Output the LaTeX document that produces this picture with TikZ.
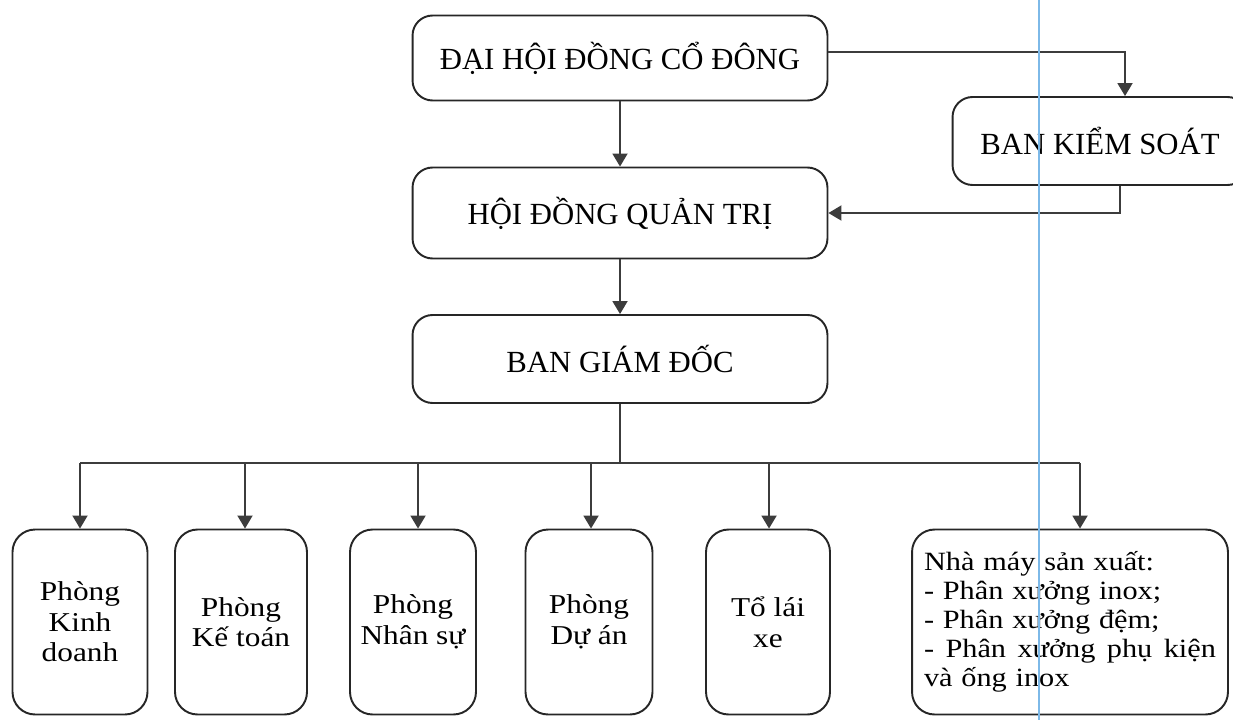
\documentclass[tikz,border=0pt]{standalone}
\usepackage{fontspec}
\setmainfont{Liberation Serif}
\newfontfamily\widefont{Liberation Serif}[FakeStretch=1.15]
\usetikzlibrary{positioning,arrows.meta}
\definecolor{linegray}{HTML}{3C3C3C}
\definecolor{scanblue}{HTML}{7DB9E8}
\tikzset{
    % khung cap tren
    topbox/.style={draw=black!85, line width=1.1pt, rounded corners=0.4cm,
                   minimum width=8.3cm, minimum height=1.76cm, align=center,
                   font=\fontsize{17.5}{20}\selectfont},
    % khung phong ban
    deptbox/.style={draw=black!85, line width=1.1pt, rounded corners=0.45cm,
                    minimum height=3.7cm, align=center,
                    font=\widefont\fontsize{15.5}{17.4}\selectfont},
    link/.style={draw=linegray, line width=1.1pt},
    arr/.style={link, -{Triangle[width=0.3cm,length=0.26cm]}}
}

\begin{document}
\begin{tikzpicture}[x=0.02cm, y=-0.02cm]
    \clip (0,0) rectangle (1233,720);
    \node[topbox, minimum height=1.7cm] (dhd) at (620,58) {ĐẠI HỘI ĐỒNG CỔ ĐÔNG};
    \node[topbox, minimum width=5.9cm] (bks) at (1100,141) {BAN KIỂM SOÁT};
    \node[topbox, minimum height=1.82cm] (hdqt) at (620,213) {HỘI ĐỒNG QUẢN TRỊ};
    \node[topbox] (bgd) at (620,359) {BAN GIÁM ĐỐC};
    % cac phong ban
    \node[deptbox, minimum width=2.7cm] (kd) at (80,622) {Phòng\\Kinh\\doanh};
    \node[deptbox, minimum width=2.64cm] (kt) at (241,622) {Phòng\\Kế toán};
    \node[deptbox, minimum width=2.52cm] (ns) at (413,622) {Phòng\\Nhân sự};
    \node[deptbox, minimum width=2.54cm] (da) at (589,622) {Phòng\\Dự án};
    \node[deptbox, minimum width=2.48cm] (tx) at (768,622) {Tổ lái\\xe};
    \node[deptbox, text width=5.84cm, align=left, inner sep=0.24cm,
          font=\widefont\fontsize{15}{16.5}\selectfont] (nm) at (1070,622)
        {Nhà máy sản xuất:\\
         - Phân xưởng inox;\\
         - Phân xưởng đệm;\\
         \makebox[5.84cm]{-\hfill Phân\hfill xưởng\hfill phụ\hfill kiện}\\
         và ống inox};
    % ket noi
    \draw[arr] (dhd) -- (hdqt);
    \draw[arr] ([yshift=0.12cm]dhd.east) -| ([xshift=0.5cm]bks.north);
    \draw[arr] ([xshift=0.4cm]bks.south) |- (hdqt.east);
    \draw[arr] (hdqt) -- (bgd);
    \coordinate (bus) at (620,463);
    \draw[link] (bgd.south) -- (bus);
    \draw[link] (kd.north |- bus) -- ([xshift=0.2cm]nm.north |- bus);
    \foreach \dept/\dx in {kd/0,kt/0.08,ns/0.1,da/0.04,tx/0.02,nm/0.2}
        \draw[arr] ([xshift=\dx cm]\dept.north |- bus) -- ([xshift=\dx cm]\dept.north);
    \draw[scanblue, line width=0.6pt] (1039,0) -- (1039,720);
\end{tikzpicture}
\end{document}
